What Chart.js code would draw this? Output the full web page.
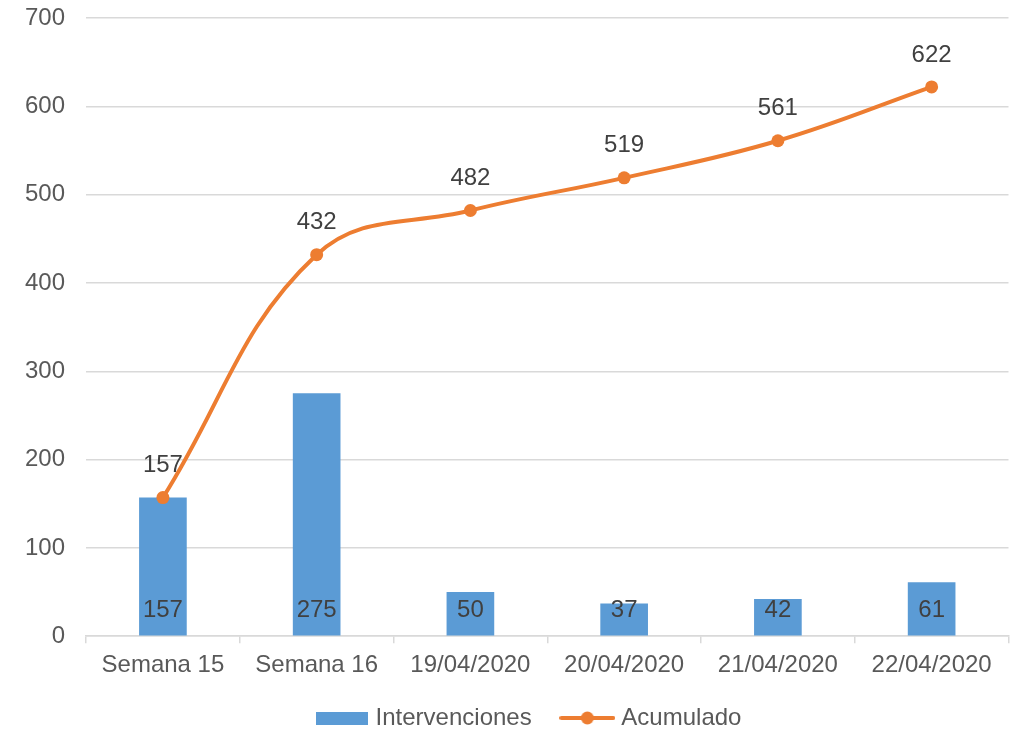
<!DOCTYPE html>
<html>
<head>
<meta charset="utf-8">
<script src="https://cdn.jsdelivr.net/npm/chart.js@4"></script>
<style>
  body { margin: 0; background: #fff; }
  #wrap { width: 1015px; height: 729px; }
</style>
</head>
<body>
<div id="wrap"><canvas id="chart" width="1015" height="729"></canvas></div>
<script>
// ---------------- Data ----------------
const categories = ['Semana 15', 'Semana 16', '19/04/2020', '20/04/2020', '21/04/2020', '22/04/2020'];
const intervenciones = [157, 275, 50, 37, 42, 61];
const acumulado = [157, 432, 482, 519, 561, 622];
const yTicks = [0, 100, 200, 300, 400, 500, 600, 700];

const BLUE = '#5b9bd5';
const ORANGE = '#ed7d31';
const FONT = '"Liberation Sans", Arial, sans-serif';

// legend icons
function barIcon() {
    const c = document.createElement('canvas');
    c.width = 52; c.height = 13;
    const g = c.getContext('2d');
    g.fillStyle = BLUE;
    g.fillRect(0, 0, 52, 13);
    return c;
}
function lineIcon() {
    const c = document.createElement('canvas');
    c.width = 56; c.height = 14;
    const g = c.getContext('2d');
    g.strokeStyle = ORANGE;
    g.lineWidth = 4;
    g.lineCap = 'round';
    g.beginPath(); g.moveTo(2, 7); g.lineTo(54, 7); g.stroke();
    g.fillStyle = ORANGE;
    g.beginPath(); g.arc(28, 7, 6.5, 0, Math.PI * 2); g.fill();
    return c;
}
const icons = [barIcon(), lineIcon()];

// value labels + legend nudge
const valueLabels = {
    id: 'valueLabels',
    afterLayout(chart) {
        chart.legend.left += 24;
        chart.legend.right += 24;
        chart.legend.top += 11;
        chart.legend.bottom += 11;
    },
    afterDatasetsDraw(chart) {
        const ctx = chart.ctx;
        ctx.save();
        ctx.font = '24px ' + FONT;
        ctx.fillStyle = '#404040';
        ctx.textAlign = 'center';
        ctx.textBaseline = 'middle';
        chart.getDatasetMeta(0).data.forEach((bar, i) => {
            ctx.fillText(intervenciones[i], bar.x, bar.base - 25);
        });
        chart.getDatasetMeta(1).data.forEach((pt, i) => {
            ctx.fillText(acumulado[i], pt.x, pt.y - 32);
        });
        ctx.restore();
    }
};

const ctx = document.getElementById('chart').getContext('2d');
new Chart(ctx, {
    data: {
        labels: categories,
        datasets: [
            {
                type: 'bar', label: 'Intervenciones', data: intervenciones,
                backgroundColor: BLUE,
                barPercentage: 0.31, categoryPercentage: 1,
                order: 1
            },
            {
                type: 'line', label: 'Acumulado', data: acumulado,
                borderColor: ORANGE, backgroundColor: ORANGE,
                borderWidth: 4, tension: 0.4,
                pointRadius: 6.5, pointHoverRadius: 6.5, pointBorderWidth: 0,
                order: 0
            }
        ]
    },
    options: {
        responsive: false,
        animation: false,
        layout: { padding: { top: 18, right: 6, left: 4, bottom: 0 } },
        plugins: {
            tooltip: { enabled: false },
            legend: {
                position: 'bottom',
                labels: {
                    usePointStyle: true,
                    pointStyleWidth: 44,
                    boxHeight: 14,
                    padding: 7,
                    color: '#595959',
                    font: { family: FONT, size: 24 },
                    generateLabels(chart) {
                        return chart.data.datasets.map((ds, i) => ({
                            // trailing spaces widen the gap between the two items
                            text: i === 0 ? ds.label + '    ' : ds.label,
                            pointStyle: icons[i],
                            fontColor: '#595959',
                            datasetIndex: i,
                            lineWidth: 0
                        }));
                    }
                }
            }
        },
        scales: {
            x: {
                offset: true,
                grid: { offset: true, drawOnChartArea: false, color: '#d9d9d9', lineWidth: 1.5, tickLength: 7 },
                border: { color: '#d9d9d9', width: 1.5 },
                ticks: { color: '#595959', font: { family: FONT, size: 24 }, padding: 8, maxRotation: 0 }
            },
            y: {
                min: 0, max: 700,
                afterBuildTicks(axis) { axis.ticks = yTicks.map(v => ({ value: v })); },
                afterFit(axis) { axis.paddingTop = 0; axis.paddingBottom = 0; },
                grid: { color: '#d9d9d9', lineWidth: 1.5, drawTicks: false },
                border: { display: false },
                ticks: { color: '#595959', font: { family: FONT, size: 24 }, padding: 21 }
            }
        }
    },
    plugins: [valueLabels]
});
</script>
</body>
</html>
